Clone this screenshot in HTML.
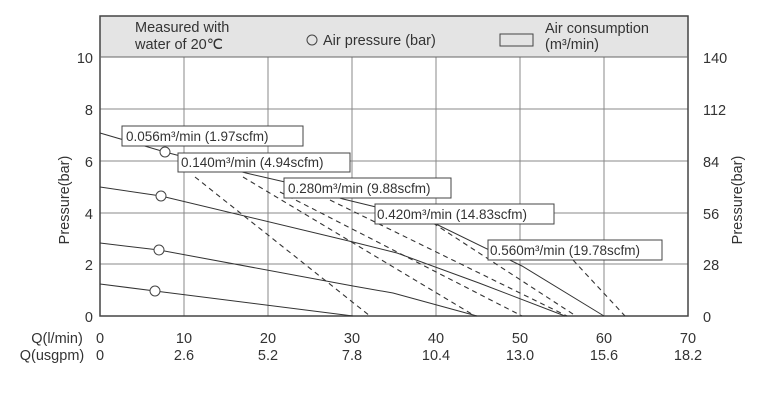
<!DOCTYPE html>
<html><head><style>
html,body{margin:0;padding:0;background:#fff;}
svg text{font-family:"Liberation Sans",sans-serif;fill:#333;}
</style></head><body>
<svg width="768" height="402" viewBox="0 0 768 402" xmlns="http://www.w3.org/2000/svg">
<rect x="100" y="16" width="588" height="41" fill="#e4e4e4"/>
<g stroke="#888" stroke-width="1">
<line x1="184" y1="57" x2="184" y2="316"/><line x1="268" y1="57" x2="268" y2="316"/>
<line x1="352" y1="57" x2="352" y2="316"/><line x1="436" y1="57" x2="436" y2="316"/>
<line x1="520" y1="57" x2="520" y2="316"/><line x1="604" y1="57" x2="604" y2="316"/>
<line x1="100" y1="109" x2="688" y2="109"/><line x1="100" y1="161" x2="688" y2="161"/>
<line x1="100" y1="213" x2="688" y2="213"/><line x1="100" y1="264" x2="688" y2="264"/>
</g>
<rect x="100" y="16" width="588" height="300" fill="none" stroke="#444" stroke-width="1.5"/>
<line x1="100" y1="57" x2="688" y2="57" stroke="#666"/>
<text x="135" y="32" font-size="14.5">Measured with</text>
<text x="135" y="49" font-size="14.5">water of 20℃</text>
<circle cx="312" cy="40" r="5" fill="none" stroke="#444"/>
<text x="323" y="45" font-size="14.5">Air pressure (bar)</text>
<rect x="500" y="34" width="33" height="12" fill="none" stroke="#444"/>
<text x="545" y="33" font-size="14.5">Air consumption</text>
<text x="545" y="49" font-size="14.5">(m³/min)</text>
<g fill="none" stroke="#333" stroke-width="1">
<polyline points="100,133 165,152 246,173 285,182 343,199 376,207 438,225 522,266 604,316"/>
<polyline points="100,187 161,196 353,242 397,253 479,283 565,316"/>
<polyline points="100,243 159,250 353,286 393,293 477,316"/>
<polyline points="100,284 155,291 353,316"/>
</g>
<g fill="none" stroke="#333" stroke-width="1.1" stroke-dasharray="5,4">
<line x1="195" y1="177" x2="370" y2="316"/>
<line x1="243" y1="177" x2="475" y2="316"/>
<line x1="280" y1="192" x2="522" y2="316"/>
<line x1="330" y1="200" x2="567" y2="316"/>
<line x1="433" y1="223" x2="576" y2="316"/>
<line x1="573" y1="260" x2="625" y2="316"/>
</g>
<g fill="#fff" stroke="#444">
<circle cx="165" cy="152" r="5"/><circle cx="161" cy="196" r="5"/>
<circle cx="159" cy="250" r="5"/><circle cx="155" cy="291" r="5"/>
</g>
<g font-size="13.5">
<rect x="122" y="126" width="181" height="20" fill="#fff" stroke="#444"/><text x="126" y="141">0.056m³/min (1.97scfm)</text>
<rect x="178" y="153" width="172" height="19" fill="#fff" stroke="#444"/><text x="181" y="167">0.140m³/min (4.94scfm)</text>
<rect x="284" y="178" width="167" height="20" fill="#fff" stroke="#444"/><text x="288" y="193">0.280m³/min (9.88scfm)</text>
<rect x="375" y="204" width="179" height="20" fill="#fff" stroke="#444"/><text x="377" y="219">0.420m³/min (14.83scfm)</text>
<rect x="488" y="240" width="174" height="20" fill="#fff" stroke="#444"/><text x="490" y="255">0.560m³/min (19.78scfm)</text>
</g>
<g font-size="14.5" text-anchor="end">
<text x="93" y="63">10</text><text x="93" y="115">8</text><text x="93" y="167">6</text>
<text x="93" y="219">4</text><text x="93" y="270">2</text><text x="93" y="322">0</text>
</g>
<g font-size="14.5" text-anchor="start">
<text x="703" y="63">140</text><text x="703" y="115">112</text><text x="703" y="167">84</text>
<text x="703" y="219">56</text><text x="703" y="270">28</text><text x="703" y="322">0</text>
</g>
<text transform="translate(69,200) rotate(-90)" font-size="14.5" text-anchor="middle">Pressure(bar)</text>
<text transform="translate(742,200) rotate(-90)" font-size="14.5" text-anchor="middle">Pressure(bar)</text>
<g font-size="14.5" text-anchor="middle">
<text x="57" y="343">Q(l/min)</text><text x="100" y="343">0</text><text x="184" y="343">10</text>
<text x="268" y="343">20</text><text x="352" y="343">30</text><text x="436" y="343">40</text>
<text x="520" y="343">50</text><text x="604" y="343">60</text><text x="688" y="343">70</text>
<text x="52" y="360">Q(usgpm)</text><text x="100" y="360">0</text><text x="184" y="360">2.6</text>
<text x="268" y="360">5.2</text><text x="352" y="360">7.8</text><text x="436" y="360">10.4</text>
<text x="520" y="360">13.0</text><text x="604" y="360">15.6</text><text x="688" y="360">18.2</text>
</g>
</svg>
</body></html>
